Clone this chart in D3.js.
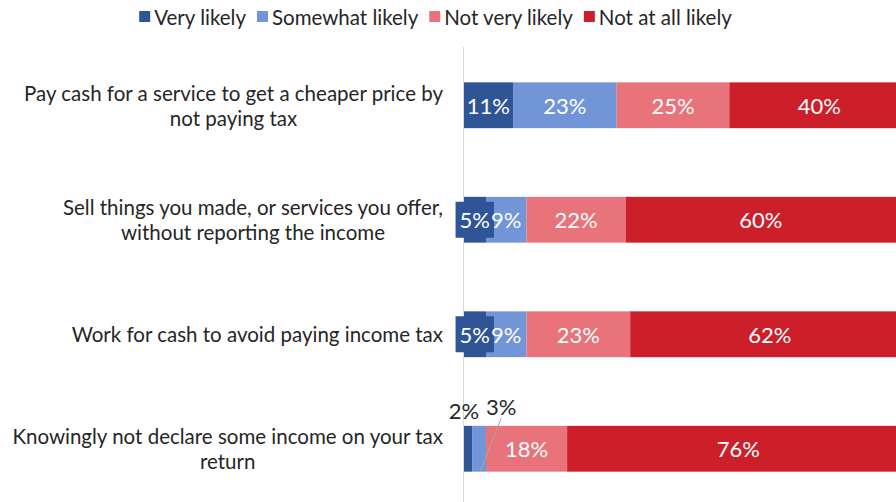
<!DOCTYPE html>
<html>
<head>
<meta charset="utf-8">
<script src="https://cdn.jsdelivr.net/npm/d3@7"></script>
<style>
  html, body { margin: 0; padding: 0; background: #fff; }
  svg { display: block; font-family: Lato, "Open Sans", sans-serif; }
</style>
</head>
<body>
<svg id="chart" width="896" height="502"></svg>
<script>
// Survey statements (rows, top to bottom)
const categories = [
  "Pay cash for a service to get a cheaper price by not paying tax",
  "Sell things you made, or services you offer, without reporting the income",
  "Work for cash to avoid paying income tax",
  "Knowingly not declare some income on your tax return"
];

// Response levels (stack order, left to right)
const seriesNames = ["Very likely", "Somewhat likely", "Not very likely", "Not at all likely"];

// Percent of respondents per response level, one entry per statement
const veryLikely      = [11, 5, 5, 2];
const somewhatLikely  = [23, 9, 9, 3];
const notVeryLikely   = [25, 22, 23, 18];
const notAtAllLikely  = [40, 60, 62, 76];

const seriesColors = ["#2F5597", "#7195D6", "#E9737A", "#CC1F2A"];

// ---- build table for d3.stack ----
const table = categories.map((c, i) => ({
  category: c,
  "Very likely": veryLikely[i],
  "Somewhat likely": somewhatLikely[i],
  "Not very likely": notVeryLikely[i],
  "Not at all likely": notAtAllLikely[i]
}));
const stacked = d3.stack().keys(seriesNames)(table);

const svg = d3.select("#chart");

const x = d3.scaleLinear().domain([0, 100]).range([463.5, 914]);
const y = d3.scaleBand().domain(categories).range([48, 506])
  .paddingInner(0.6).paddingOuter(0.3);
const color = d3.scaleOrdinal().domain(seriesNames).range(seriesColors);

// ---- bars ----
const layers = svg.append("g").selectAll("g")
  .data(stacked).join("g")
  .attr("fill", d => color(d.key));

layers.selectAll("rect")
  .data(d => d.map(s => ({ key: d.key, s })))
  .join("rect")
  .attr("x", d => x(d.s[0]))
  .attr("y", d => y(d.s.data.category))
  .attr("width", d => x(d.s[1]) - x(d.s[0]))
  .attr("height", y.bandwidth());

// ---- vertical category axis line ----
svg.append("line")
  .attr("x1", x(0)).attr("x2", x(0))
  .attr("y1", 47).attr("y2", 502)
  .attr("stroke", "#d9d9d9").attr("stroke-width", 1);

// ---- data labels ----
// small values are moved above the bar with an optional leader line
const callouts = {
  "Very likely":     { dx: -4, dy: -15, leader: false },
  "Somewhat likely": { dx: 22, dy: -19, leader: true }
};
const labelG = svg.append("g").attr("font-size", 22);

stacked.forEach(layer => {
  layer.forEach(s => {
    const v = s[1] - s[0];
    const x0 = x(s[0]), x1 = x(s[1]);
    const cx = (x0 + x1) / 2;
    const top = y(s.data.category);
    const cy = top + y.bandwidth() / 2;
    const co = callouts[layer.key];
    if (v < 4 && co) {
      const lx = cx + co.dx, ly = top + co.dy;
      if (co.leader) {
        labelG.append("line")
          .attr("x1", cx + 1).attr("y1", top + y.bandwidth() - 1)
          .attr("x2", lx).attr("y2", ly + 11)
          .attr("stroke", "#a6a6a6").attr("stroke-width", 1);
      }
      labelG.append("text")
        .attr("x", lx).attr("y", ly)
        .attr("text-anchor", "middle").attr("dominant-baseline", "central")
        .attr("fill", "#262626")
        .text(v + "%");
      return;
    }
    const t = labelG.append("text")
      .attr("x", cx).attr("y", cy)
      .attr("text-anchor", "middle").attr("dominant-baseline", "central")
      .attr("fill", "#fff")
      .text(v + "%");
    const tw = t.node().getComputedTextLength();
    if (tw > (x1 - x0) - 6) {
      // label wider than its segment: give it a backing box in the series colour
      labelG.insert("rect", function () { return t.node(); })
        .attr("x", cx - tw / 2 - 4).attr("y", cy - 18)
        .attr("width", tw + 8).attr("height", 36)
        .attr("fill", color(layer.key));
    }
  });
});

// ---- category labels (wrapped, centred block, right edge near the axis) ----
const catG = svg.append("g").attr("font-size", 20.5).attr("fill", "#262626");
const rightEdge = 443;
const maxLine = 442;
categories.forEach(c => {
  const words = c.split(" ");
  const lines = [];
  let cur = "";
  const probe = catG.append("text");
  words.forEach(w => {
    const test = cur ? cur + " " + w : w;
    probe.text(test);
    if (probe.node().getComputedTextLength() > maxLine && cur) {
      lines.push(cur); cur = w;
    } else cur = test;
  });
  lines.push(cur);
  const widths = lines.map(l => { probe.text(l); return probe.node().getComputedTextLength(); });
  probe.remove();
  const blockW = d3.max(widths);
  const cxL = rightEdge - blockW / 2;
  const cyL = y(c) + y.bandwidth() / 2;
  const lh = 25;
  lines.forEach((l, i) => {
    catG.append("text")
      .attr("x", cxL)
      .attr("y", cyL + (i - (lines.length - 1) / 2) * lh)
      .attr("text-anchor", "middle").attr("dominant-baseline", "central")
      .text(l);
  });
});

// ---- legend ----
const legG = svg.append("g").attr("font-size", 20.5).attr("fill", "#262626");
let lx = 0;
seriesNames.forEach(n => {
  const g = legG.append("g").attr("transform", `translate(${lx},0)`);
  g.append("rect").attr("x", 0).attr("y", 11).attr("width", 11).attr("height", 11)
    .attr("fill", color(n));
  const t = g.append("text").attr("x", 15).attr("y", 17)
    .attr("dominant-baseline", "central").text(n);
  const w = 15 + t.node().getComputedTextLength();
  lx += w + 11;
});
const legW = lx - 11;
legG.attr("transform", `translate(${435.5 - legW / 2},0)`);
</script>
</body>
</html>
